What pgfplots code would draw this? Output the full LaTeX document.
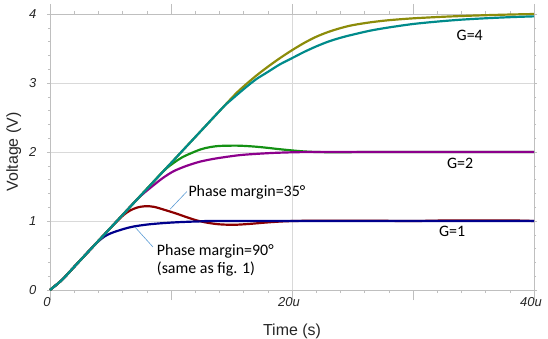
\documentclass[border=0pt]{standalone}
\usepackage{pgfplots}
\pgfplotsset{compat=1.18}
\usepackage{fontspec}
\setmainfont{Liberation Sans}
\newfontfamily\calib{Carlito}
\definecolor{cOlive}{RGB}{140,140,10}
\definecolor{cTeal}{RGB}{0,139,139}
\definecolor{cGreen}{RGB}{20,145,20}
\definecolor{cPurple}{RGB}{140,0,140}
\definecolor{cRed}{RGB}{140,0,0}
\definecolor{cBlue}{RGB}{0,0,140}
\definecolor{cLead}{RGB}{91,155,213}
\definecolor{cGrid}{RGB}{217,217,217}
\definecolor{cAxis}{RGB}{191,191,191}
\begin{document}
\begin{tikzpicture}
\begin{axis}[
  at={(0,0)}, anchor=south west,
  scale only axis, width=484bp, height=276bp,
  xmin=0, xmax=40, ymin=0, ymax=4,
  clip=false,
  axis line style={cAxis, line width=0.8pt},
  xtick={0,20,40}, xticklabels={0,20u,40u},
  ytick={0,1,2,3,4}, yticklabels={0,1,2,3,4},
  minor x tick num=9,
  minor y tick num=4,
  extra x ticks={10,30}, extra x tick labels={},
  extra x tick style={grid=none, /pgfplots/major tick length=5bp},
  tick align=outside,
  xtick style={cAxis, line width=0.6pt, /pgfplots/major tick length=10bp, /pgfplots/minor tick length=3bp},
  ytick style={cAxis, line width=0.6pt, /pgfplots/major tick length=3bp, /pgfplots/minor tick length=2bp},
  major grid style={cGrid, line width=0.8pt},
  grid=major,
  ticklabel style={font=\fontsize{13}{13}\selectfont\itshape, text=black!85},
  xticklabel style={xshift=-3bp},
  yticklabel style={xshift=-6bp},
  xlabel={Time (s)}, ylabel={Voltage (V)},
  xlabel style={yshift=-0.5bp},
  ylabel style={yshift=1bp},
  label style={font=\fontsize{16}{16}\selectfont, text=black!85},
  every axis plot/.append style={line width=2.2pt, line join=round},
]
% red: G=1, PM=35
\addplot[cRed, smooth] coordinates {(0,0)(1,0.148)(2,0.336)(4,0.712)(5.5,0.99)(6.1,1.09)(6.6,1.15)(7.2,1.195)(7.9,1.215)(8.6,1.205)(9.4,1.165)(10.4,1.11)(11.3,1.055)(12.1,1.01)(13,0.975)(14,0.952)(15.2,0.945)(16.5,0.958)(18,0.98)(19.6,0.997)(22,1.005)(26,1.005)(30,1.0)(33,1.008)(38,1.008)(40,1.0)};
% blue: G=1, PM=90
\addplot[cBlue, smooth] coordinates {(0,0)(1,0.148)(2,0.336)(3.5,0.618)(4,0.705)(4.5,0.775)(5,0.82)(5.5,0.852)(6.2,0.89)(6.9,0.92)(8,0.948)(9.1,0.966)(10.3,0.98)(11.6,0.99)(13,0.997)(15,1.0)(40,1.0)};
% green: G=2, PM=35
\addplot[cGreen, smooth] coordinates {(0,0)(1,0.148)(2,0.336)(4,0.712)(6,1.088)(8,1.464)(9.4,1.727)(10.2,1.84)(10.8,1.91)(11.3,1.955)(12.4,2.035)(13.2,2.07)(14.05,2.088)(15.5,2.092)(16.8,2.08)(18,2.06)(19,2.04)(20.7,2.012)(22,2.0)(24,1.996)(27,2.0)(40,2.0)};
% purple: G=2, PM=90
\addplot[cPurple, smooth] coordinates {(0,0)(1,0.148)(2,0.336)(4,0.712)(6,1.088)(7.2,1.314)(7.8,1.41)(8.5,1.51)(9.3,1.62)(10.2,1.72)(11.3,1.80)(12.4,1.86)(13.5,1.90)(14.6,1.93)(15.7,1.955)(16.8,1.97)(18.5,1.987)(20.7,1.998)(24,2.0)(40,2.0)};
% olive: G=4, PM=35
\addplot[cOlive, smooth] coordinates {(0,0)(1,0.148)(2,0.336)(4,0.712)(6,1.088)(8,1.464)(10,1.84)(12,2.216)(14,2.592)(15,2.78)(15.5,2.87)(16,2.95)(17,3.10)(18,3.235)(19,3.36)(20,3.475)(21,3.58)(22,3.67)(23,3.74)(24,3.795)(25,3.838)(26.5,3.88)(28,3.91)(30,3.937)(32.5,3.96)(35,3.977)(37.5,3.99)(40,4.0)};
% teal: G=4, PM=90
\addplot[cTeal, smooth] coordinates {(0,0)(1,0.148)(2,0.336)(4,0.712)(6,1.088)(8,1.464)(10,1.84)(12,2.216)(14,2.592)(14.6,2.70)(15,2.76)(16,2.91)(17,3.05)(18,3.16)(19,3.27)(20,3.36)(21,3.45)(22,3.53)(23,3.60)(24,3.655)(25,3.70)(26.5,3.76)(28,3.805)(30,3.855)(32,3.89)(34,3.918)(36,3.938)(38,3.954)(40,3.966)};
% annotations
\draw[cLead, line width=0.6pt] (axis cs:9.92,1.17) -- (axis cs:11.3,1.425);
\draw[cLead, line width=0.6pt] (axis cs:7.02,0.913) -- (axis cs:8.51,0.623);
\node[anchor=west, inner sep=0pt, font=\calib\fontsize{16}{18}\selectfont] at (axis cs:11.43,1.41) {Phase margin=35°};
\node[anchor=west, inner sep=0pt, align=left, font=\calib\fontsize{16}{18}\selectfont] at (axis cs:8.82,0.425) {Phase margin=90°\\(same as fig. 1)};
\node[inner sep=0pt, font=\calib\fontsize{16}{18}\selectfont] at (axis cs:34.69,3.696) {G=4};
\node[inner sep=0pt, font=\calib\fontsize{16}{18}\selectfont] at (axis cs:33.9,1.836) {G=2};
\node[inner sep=0pt, font=\calib\fontsize{16}{18}\selectfont] at (axis cs:33.24,0.845) {G=1};
\end{axis}
\pgfresetboundingbox
\path[use as bounding box] (-50bp,-49bp) rectangle (498bp,290bp);
\end{tikzpicture}
\end{document}
